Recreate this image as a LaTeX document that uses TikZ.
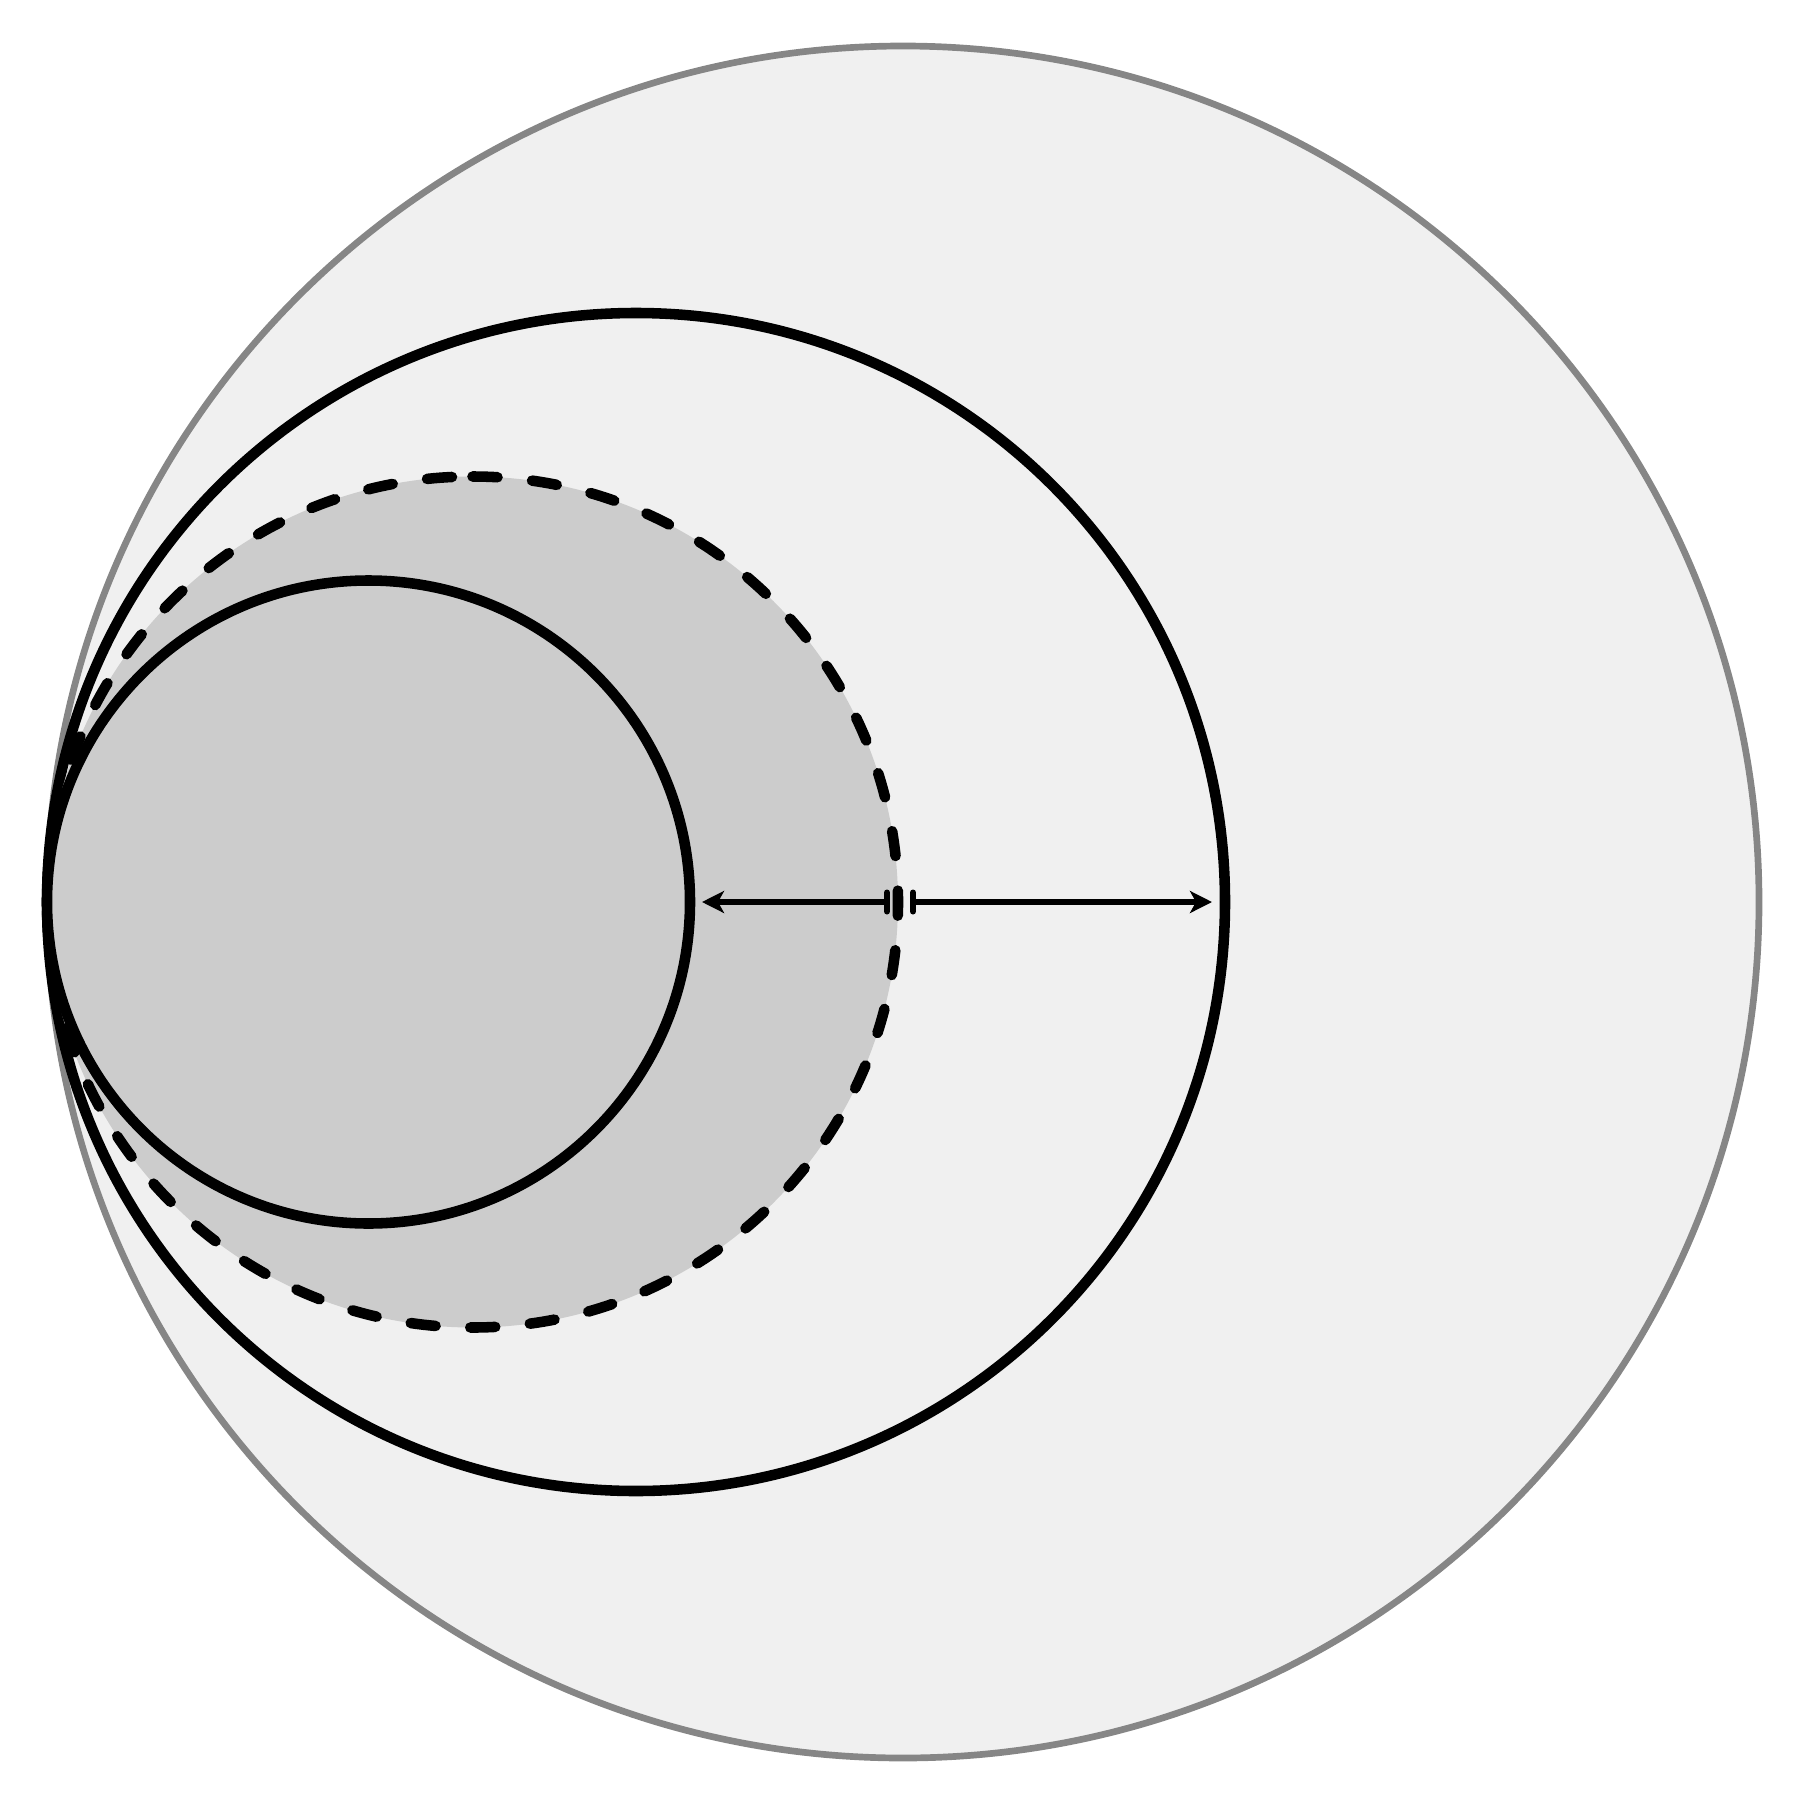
\documentclass[tikz,border=0pt]{standalone}
\usetikzlibrary{arrows.meta}
\definecolor{outergray}{HTML}{868686}
\definecolor{lightfill}{HTML}{F0F0F0}
\definecolor{midfill}{HTML}{CCCCCC}
\begin{document}
\begin{tikzpicture}[x=0.01cm,y=-0.01cm,
  outerring/.style={line width=1.9pt, draw=outergray, fill=lightfill},
  solidring/.style={line width=3.0pt, draw=black},
  dashring/.style={line width=3.0pt, draw=black, line cap=round,
    dash pattern=on 0.25cm off 0.347cm},
  arrowline/.style={line width=1.7pt, draw=black,
    {Bar[width=0.19cm,round]}-{Stealth[length=0.22cm,width=0.22cm,inset=0.06cm]}}]
\useasboundingbox (0,0) rectangle (1800,1800);
\coordinate (co) at (903,902);
\coordinate (cb) at (636,902);
\coordinate (cd) at (472.5,902);
\coordinate (ci) at (368.5,902);
\coordinate (dtop) at (472.5,476.5);
\coordinate (lbar) at (890,902);
\coordinate (ltip) at (702,902);
\coordinate (rbar) at (910,902);
\coordinate (rtip) at (1212,902);
% outer circle
\draw[outerring] (co) circle[radius=856];
% big circle
\draw[solidring, fill=lightfill] (cb) circle[radius=589];
% dashed circle: fill, then dashed outline starting at the top
\fill[midfill] (cd) circle[radius=425.5];
\draw[dashring] (dtop) arc[start angle=270, end angle=630, radius=425.5];
% inner circle
\draw[solidring, fill=midfill] (ci) circle[radius=321.5];
% arrows
\draw[arrowline] (lbar) -- (ltip);
\draw[arrowline] (rbar) -- (rtip);
\end{tikzpicture}
\end{document}
